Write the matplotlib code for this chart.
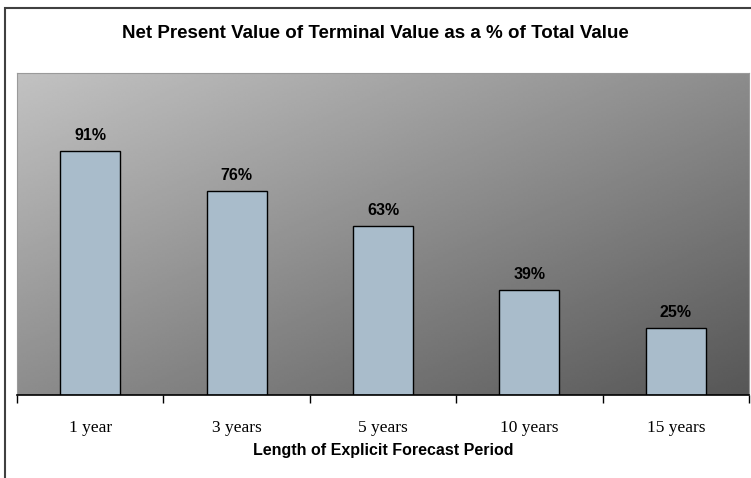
import numpy as np
import matplotlib
matplotlib.use("Agg")
import matplotlib.pyplot as plt
from matplotlib.patches import Rectangle

# data
periods = ["1 year", "3 years", "5 years", "10 years", "15 years"]
tv_share = [91, 76, 63, 39, 25]

W, H = 751, 478
fig = plt.figure(figsize=(W / 100, H / 100), dpi=100)
ax = fig.add_axes([17 / W, 1 - 395 / H, (749 - 17) / W, (395 - 73) / H])

x = np.arange(len(periods))
ymax = 120

# diagonal gray gradient background (light top-left -> dark bottom-right)
u = np.linspace(0, 1, 300)
v = np.linspace(0, 1, 150)
U, V = np.meshgrid(u, v)
t = (U + V) / 2
grad = 0.76 - 0.42 * t
ax.imshow(grad, cmap="gray", vmin=0, vmax=1, aspect="auto", origin="upper",
          extent=(-0.5, len(periods) - 0.5, 0, ymax), zorder=0,
          interpolation="bilinear")

ax.bar(x, tv_share, width=0.41, color="#A9BCCB", edgecolor="black",
       linewidth=1.0, zorder=2)
for xi, val in zip(x, tv_share):
    ax.text(xi, val + 3, f"{val}%", ha="center", va="bottom",
            fontsize=11.5, fontweight="bold", family="Liberation Sans", zorder=3)

ax.set_xlim(-0.5, len(periods) - 0.5)
ax.set_ylim(0, ymax)
ax.set_yticks([])
ax.set_xticks(np.arange(len(periods) + 1) - 0.5)
ax.set_xticklabels([])
ax.set_xticks(x, minor=True)
ax.set_xticklabels(periods, minor=True, family="Liberation Serif", fontsize=12.5)
ax.tick_params(axis="x", which="major", length=6, width=1, color="black", direction="out")
ax.tick_params(axis="x", which="minor", length=0, pad=18)
for s in ["top", "left", "right"]:
    ax.spines[s].set_color("#9a9a9a")
ax.spines["bottom"].set_color("black")
ax.spines["bottom"].set_linewidth(1.2)

ax.set_xlabel("Length of Explicit Forecast Period", family="Liberation Sans",
              fontweight="bold", fontsize=11.5, labelpad=5)

fig.text(0.5, 1 - 33 / H, "Net Present Value of Terminal Value as a % of Total Value",
         ha="center", va="center", family="Liberation Sans", fontweight="bold",
         fontsize=13.5)

# chart border
fig.patches.append(Rectangle((5 / W, -0.1), 1.2, 1 - 8 / H + 0.1,
                             transform=fig.transFigure, fill=False,
                             edgecolor="#404040", linewidth=1.5))

fig.savefig("out.png", dpi=100)
